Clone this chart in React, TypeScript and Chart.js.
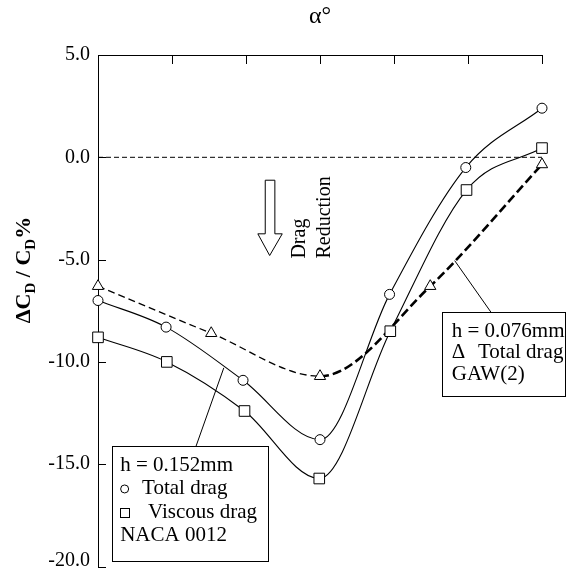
import React, { useEffect, useRef } from 'react';
import { Chart, registerables } from 'chart.js';

Chart.register(...registerables);

// ---- data ----
const xTickValues = [0, 1, 2, 3, 4, 5, 6];
const yTickValues = [-20, -15, -10, -5, 0, 5];

const nacaTotalX = [0, 0.92, 1.96, 3.0, 3.94, 4.97, 6.0];
const nacaTotalY = [-7.0, -8.3, -10.9, -13.8, -6.7, -0.5, 2.4];

const nacaViscousX = [0, 0.93, 1.98, 2.99, 3.95, 4.98, 6.0];
const nacaViscousY = [-8.8, -10.0, -12.4, -15.7, -8.5, -1.6, 0.45];

const gawTotalX = [0, 1.53, 3.0, 4.49, 6.0];
const gawTotalY = [-6.3, -8.6, -10.7, -6.3, -0.35];

const zeroLineX = [0, 6];
const zeroLineY = [0, 0];

const xTitle = 'α°';
const yTitleParts: [string, boolean][] = [
  ['ΔC', false],
  ['D', true],
  [' / C', false],
  ['D', true],
  ['%', false],
];
const legend1Lines = ['h = 0.152mm', 'Total drag', 'Viscous drag', 'NACA 0012'];
const legend2Lines = ['h = 0.076mm', 'Δ', 'Total drag', 'GAW(2)'];
const arrowLabels = ['Drag', 'Reduction'];

const SERIF = '"Liberation Serif", "Times New Roman", serif';
const fmt = (v: number) => Number(v).toFixed(1);

const toPts = (xs: number[], ys: number[]) => xs.map((x, i) => ({ x, y: ys[i] }));

const annotPlugin = {
  id: 'annot',
  afterDraw(chart: any) {
    const { ctx, chartArea } = chart;
    const xs = chart.scales.x;
    const ys = chart.scales.y;
    const X = (v: number) => xs.getPixelForValue(v);
    const Y = (v: number) => ys.getPixelForValue(v);
    const r = (v: number) => Math.round(v) + 0.5;
    ctx.save();
    ctx.strokeStyle = '#000';
    ctx.fillStyle = '#000';
    ctx.lineWidth = 1;
    ctx.setLineDash([]);

    // inward ticks
    ctx.beginPath();
    for (const v of yTickValues) {
      const py = r(Y(v));
      ctx.moveTo(chartArea.left, py);
      ctx.lineTo(chartArea.left + 8, py);
    }
    for (const v of xTickValues) {
      const px = r(X(v));
      ctx.moveTo(px, chartArea.top);
      ctx.lineTo(px, chartArea.top + 9);
    }
    ctx.stroke();

    // lowest tick label (raised to stay inside the picture)
    ctx.font = `20px ${SERIF}`;
    ctx.textAlign = 'right';
    ctx.textBaseline = 'middle';
    ctx.fillText(fmt(yTickValues[0]), chartArea.left - 8, Y(yTickValues[0] + 0.27));

    // y title with subscripts
    ctx.save();
    ctx.translate(30, 270);
    ctx.rotate(-Math.PI / 2);
    ctx.textBaseline = 'alphabetic';
    ctx.textAlign = 'left';
    const bigF = `bold 22px ${SERIF}`;
    const smallF = `bold 15px ${SERIF}`;
    let total = 0;
    for (const [t, sub] of yTitleParts) {
      ctx.font = sub ? smallF : bigF;
      total += ctx.measureText(t).width;
    }
    let cx = -total / 2;
    for (const [t, sub] of yTitleParts) {
      ctx.font = sub ? smallF : bigF;
      ctx.fillText(t, cx, sub ? 5 : 0);
      cx += ctx.measureText(t).width;
    }
    ctx.restore();

    // hollow arrow
    ctx.beginPath();
    ctx.moveTo(X(2.26), Y(-1.12));
    ctx.lineTo(X(2.39), Y(-1.12));
    ctx.lineTo(X(2.39), Y(-3.74));
    ctx.lineTo(X(2.49), Y(-3.74));
    ctx.lineTo(X(2.32), Y(-4.8));
    ctx.lineTo(X(2.16), Y(-3.74));
    ctx.lineTo(X(2.26), Y(-3.74));
    ctx.closePath();
    ctx.fillStyle = '#fff';
    ctx.fill();
    ctx.stroke();
    ctx.fillStyle = '#000';

    // rotated Drag / Reduction
    ctx.font = `20px ${SERIF}`;
    ctx.textAlign = 'left';
    ctx.textBaseline = 'alphabetic';
    const labelXs = [2.8, 3.14];
    arrowLabels.forEach((t, i) => {
      ctx.save();
      ctx.translate(X(labelXs[i]), Y(-4.95));
      ctx.rotate(-Math.PI / 2);
      ctx.fillText(t, 0, 0);
      ctx.restore();
    });

    // leader lines
    ctx.beginPath();
    ctx.moveTo(X(1.32), Y(-14.17));
    ctx.lineTo(X(1.7), Y(-10.29));
    ctx.moveTo(X(4.82), Y(-5.05));
    ctx.lineTo(X(5.31), Y(-7.57));
    ctx.stroke();

    // legend box 1
    const b1l = r(X(0.19)), b1r = r(X(2.3)), b1t = r(Y(-14.13)), b1b = r(Y(-19.71));
    ctx.fillStyle = '#fff';
    ctx.fillRect(b1l, b1t, b1r - b1l, b1b - b1t);
    ctx.strokeRect(b1l, b1t, b1r - b1l, b1b - b1t);
    ctx.fillStyle = '#000';
    ctx.font = `21px ${SERIF}`;
    ctx.textBaseline = 'middle';
    const l1y = [-15.05, -16.21, -17.38, -18.5].map(Y);
    ctx.fillText(legend1Lines[0], X(0.3), l1y[0]);
    ctx.beginPath();
    ctx.arc(X(0.36), l1y[1], 4, 0, Math.PI * 2);
    ctx.stroke();
    ctx.fillText(legend1Lines[1], X(0.595), l1y[1]);
    ctx.strokeRect(r(X(0.36) - 4.5), r(l1y[2] - 4.5), 9, 9);
    ctx.fillText(legend1Lines[2], X(0.676), l1y[2]);
    ctx.fillText(legend1Lines[3], X(0.3), l1y[3]);

    // legend box 2
    const b2l = r(X(4.65)), b2r = r(X(6.31)), b2t = r(Y(-7.57)), b2b = r(Y(-11.65));
    ctx.fillStyle = '#fff';
    ctx.fillRect(b2l, b2t, b2r - b2l, b2b - b2t);
    ctx.strokeRect(b2l, b2t, b2r - b2l, b2b - b2t);
    ctx.fillStyle = '#000';
    const l2y = [-8.5, -9.56, -10.63].map(Y);
    ctx.fillText(legend2Lines[0], X(4.78), l2y[0]);
    ctx.fillText(legend2Lines[1], X(4.78), l2y[1]);
    ctx.fillText(legend2Lines[2], X(5.135), l2y[1]);
    ctx.fillText(legend2Lines[3], X(4.78), l2y[2]);

    ctx.restore();
  },
};

export default function App() {
  const ref = useRef<HTMLCanvasElement>(null);
  useEffect(() => {
    document.body.style.margin = '0';
    document.body.style.overflow = 'hidden';
    const canvas = ref.current!;
    const common: any = {
      borderColor: '#000',
      backgroundColor: '#fff',
      pointBackgroundColor: '#fff',
      pointBorderColor: '#000',
      pointBorderWidth: 1,
      fill: false,
      clip: false,
      cubicInterpolationMode: 'monotone',
    };
    const chart = new Chart(canvas, {
      type: 'line',
      data: {
        datasets: [
          {
            ...common,
            label: 'h = 0.152mm Total drag',
            data: toPts(nacaTotalX, nacaTotalY),
            borderWidth: 1.1,
            pointStyle: 'circle',
            pointRadius: 5,
          },
          {
            ...common,
            label: 'h = 0.152mm Viscous drag',
            data: toPts(nacaViscousX, nacaViscousY),
            borderWidth: 1.1,
            pointStyle: 'rect',
            pointRadius: 7.5,
          },
          {
            ...common,
            label: 'h = 0.076mm Total drag',
            data: toPts(gawTotalX, gawTotalY),
            borderWidth: 1.3,
            borderDash: [7, 4],
            pointStyle: 'triangle',
            pointRadius: 6.5,
            segment: {
              borderWidth: (c: any) => (c.p0DataIndex >= 2 ? 2.6 : 1.3),
              borderDash: (c: any) => (c.p0DataIndex >= 2 ? [9, 4] : [7, 4]),
            },
          },
          {
            label: 'zero',
            data: toPts(zeroLineX, zeroLineY),
            borderColor: '#000',
            borderWidth: 1,
            borderDash: [5, 3],
            pointRadius: 0,
            fill: false,
            tension: 0,
          },
        ],
      },
      options: {
        animation: false,
        responsive: false,
        devicePixelRatio: 1,
        layout: { padding: { left: 0, right: 25, top: 0, bottom: 5 } },
        plugins: { legend: { display: false }, tooltip: { enabled: false } },
        events: [],
        scales: {
          x: {
            type: 'linear',
            position: 'top',
            min: 0,
            max: 6,
            ticks: { display: false, stepSize: 1 },
            grid: { display: true, drawOnChartArea: false, drawTicks: false },
            border: { display: true, color: '#000', width: 1 },
            title: {
              display: true,
              text: xTitle,
              color: '#000',
              font: { family: SERIF, size: 24 },
              padding: { top: 2, bottom: 0 },
            },
            afterFit: (s: any) => {
              s.height = 55;
              s.paddingLeft = 0;
              s.paddingRight = 0;
            },
          },
          y: {
            type: 'linear',
            min: -20,
            max: 5,
            ticks: {
              stepSize: 5,
              color: '#000',
              padding: 8,
              font: { family: SERIF, size: 20 },
              callback: (v: any) => (Number(v) === yTickValues[0] ? '' : fmt(v)),
            },
            grid: { display: true, drawOnChartArea: false, drawTicks: false },
            border: { display: true, color: '#000', width: 1 },
            afterFit: (s: any) => {
              s.width = 98;
              s.paddingTop = 0;
              s.paddingBottom = 0;
            },
          },
        },
      } as any,
      plugins: [annotPlugin],
    });
    return () => chart.destroy();
  }, []);
  return (
    <div style={{ width: 567, height: 575, background: '#fff' }}>
      <canvas ref={ref} width={567} height={575} style={{ display: 'block' }} />
    </div>
  );
}
